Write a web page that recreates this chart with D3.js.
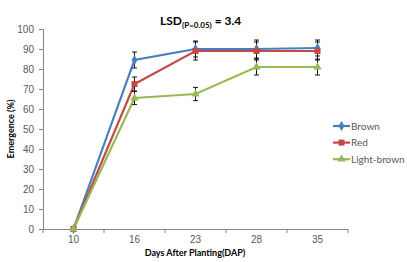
<!DOCTYPE html>
<html>
<head>
<meta charset="utf-8">
<script src="https://cdn.jsdelivr.net/npm/d3@7"></script>
<style>
body { margin: 0; background: #fff; }
svg { font-family: Lato, "Open Sans", sans-serif; }
</style>
</head>
<body>
<svg id="chart" width="407" height="262"></svg>
<script>
// data
var days = ["10", "16", "23", "28", "35"];
var seriesNames = ["Brown", "Red", "Light-brown"];
var brown = [0, 84.5, 90, 90, 90.5];
var brownErr = [0, 4, 4, 4.5, 4];
var red = [0, 72.5, 89, 89, 89];
var redErr = [0, 3.5, 4.5, 4.5, 4.5];
var lightBrown = [0, 65.5, 67.5, 81, 81];
var lightBrownErr = [0, 3.3, 3.3, 4, 4];
var yTicks = [0, 10, 20, 30, 40, 50, 60, 70, 80, 90, 100];

var colors = ["#4A7EBB", "#BE4B48", "#98B954"];
var symbols = [d3.symbolDiamond, d3.symbolSquare, d3.symbolTriangle];
var symSizes = [30, 36, 30];

var series = [
    { name: seriesNames[0], vals: brown, err: brownErr },
    { name: seriesNames[1], vals: red, err: redErr },
    { name: seriesNames[2], vals: lightBrown, err: lightBrownErr }
];

var margin = { top: 29, left: 43 },
    width = 305,
    height = 200;

var svg = d3.select("#chart");
var g = svg.append("g")
    .attr("transform", "translate(" + margin.left + "," + margin.top + ")");

var x = d3.scaleBand().domain(days).range([0, width]);
var y = d3.scaleLinear().domain([0, 100]).range([height, 0]);

// y axis
var yAxis = g.append("g")
    .call(d3.axisLeft(y).tickValues(yTicks).tickSize(4).tickPadding(5));
yAxis.select(".domain").attr("stroke", "#868686").attr("d", "M0.5,0V" + height);
yAxis.selectAll(".tick line").attr("stroke", "#868686");
yAxis.selectAll("text").attr("fill", "#595959").style("font-size", "10px");

// x axis with ticks at band edges
var xAxis = g.append("g")
    .attr("transform", "translate(0," + height + ")")
    .call(d3.axisBottom(x).tickSize(0).tickPadding(7));
xAxis.select(".domain").attr("stroke", "#868686").attr("d", "M0,0.5H" + width);
xAxis.selectAll("text").attr("fill", "#595959").style("font-size", "10px");
xAxis.selectAll(".edge")
    .data(d3.range(days.length + 1))
    .enter().append("line")
    .attr("x1", function (d) { return d * x.step(); })
    .attr("x2", function (d) { return d * x.step(); })
    .attr("y1", 0)
    .attr("y2", 4)
    .attr("stroke", "#868686");

var cx = function (i) { return x(days[i]) + x.bandwidth() / 2; };

// lines
var line = d3.line()
    .x(function (d, i) { return cx(i); })
    .y(function (d) { return y(d); });

series.forEach(function (s, k) {
    g.append("path")
        .datum(s.vals)
        .attr("d", line)
        .attr("fill", "none")
        .attr("stroke", colors[k])
        .attr("stroke-width", 2.2);
});

// error bars
series.forEach(function (s, k) {
    var eb = g.append("g").attr("stroke", "#000").attr("stroke-width", 0.9);
    s.vals.forEach(function (v, i) {
        if (!s.err[i]) return;
        var px = cx(i), hi = y(v + s.err[i]), lo = y(v - s.err[i]);
        eb.append("line").attr("x1", px).attr("x2", px).attr("y1", hi).attr("y2", lo);
        eb.append("line").attr("x1", px - 2.5).attr("x2", px + 2.5).attr("y1", hi).attr("y2", hi);
        eb.append("line").attr("x1", px - 2.5).attr("x2", px + 2.5).attr("y1", lo).attr("y2", lo);
    });
});

// markers
series.forEach(function (s, k) {
    g.selectAll(".m" + k)
        .data(s.vals)
        .enter().append("path")
        .attr("d", d3.symbol().type(symbols[k]).size(symSizes[k]))
        .attr("transform", function (d, i) { return "translate(" + cx(i) + "," + y(d) + ")"; })
        .attr("fill", colors[k]);
});

// title
var title = svg.append("text")
    .attr("x", 160)
    .attr("y", 25)
    .attr("fill", "#000")
    .style("font-size", "12px")
    .style("font-weight", "bold");
title.append("tspan").text("LSD");
title.append("tspan").attr("dy", 3).style("font-size", "8px").text("(P=0.05)");
title.append("tspan").attr("dy", -3).text(" = 3.4");

// axis labels
svg.append("text")
    .attr("transform", "translate(14,129) rotate(-90)")
    .attr("text-anchor", "middle")
    .style("font-size", "9px")
    .style("font-weight", "bold")
    .attr("fill", "#000")
    .text("Emergence (%)");

svg.append("text")
    .attr("x", 195)
    .attr("y", 256)
    .attr("text-anchor", "middle")
    .style("font-size", "9px")
    .style("font-weight", "bold")
    .attr("fill", "#000")
    .text("Days After Planting(DAP)");

// legend
var legend = svg.append("g").attr("transform", "translate(333,126)");
series.forEach(function (s, k) {
    var lg = legend.append("g").attr("transform", "translate(0," + (k * 16.6) + ")");
    lg.append("line").attr("x1", 0).attr("x2", 17).attr("y1", 0).attr("y2", 0)
        .attr("stroke", colors[k]).attr("stroke-width", 2.2);
    lg.append("path")
        .attr("d", d3.symbol().type(symbols[k]).size(symSizes[k]))
        .attr("transform", "translate(8.5,0)")
        .attr("fill", colors[k]);
    lg.append("text")
        .attr("x", 18)
        .attr("y", 3.5)
        .attr("fill", "#595959")
        .style("font-size", "10px")
        .text(s.name);
});
</script>
</body>
</html>
